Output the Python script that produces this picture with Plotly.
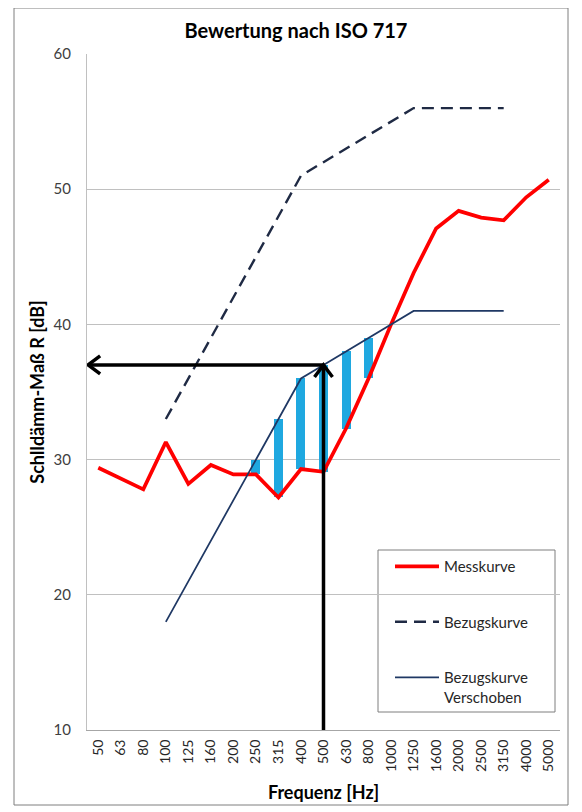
import plotly.graph_objects as go

freqs = ["50", "63", "80", "100", "125", "160", "200", "250", "315", "400", "500",
         "630", "800", "1000", "1250", "1600", "2000", "2500", "3150", "4000", "5000"]
messkurve = [29.4, 28.6, 27.8, 31.3, 28.2, 29.6, 28.9, 28.9, 27.2, 29.3, 29.1,
             32.3, 36.0, 40.0, 43.8, 47.1, 48.4, 47.9, 47.7, 49.4, 50.7]
bezug_freqs = ["100", "125", "160", "200", "250", "315", "400", "500", "630", "800",
               "1000", "1250", "1600", "2000", "2500", "3150"]
bezugskurve = [33, 36, 39, 42, 45, 48, 51, 52, 53, 54, 55, 56, 56, 56, 56, 56]
shift = -15
verschoben = [v + shift for v in bezugskurve]
y_ticks = [10, 20, 30, 40, 50, 60]

idx = {f: i for i, f in enumerate(freqs)}
bx = [idx[f] for f in bezug_freqs]
mx = list(range(len(freqs)))

# unfavourable deviations
dev_x, dev_base, dev_h = [], [], []
for f, v in zip(bezug_freqs, verschoben):
    m = messkurve[idx[f]]
    if v > m:
        dev_x.append(idx[f]); dev_base.append(m); dev_h.append(v - m)

rw_x = idx["500"]
rw = verschoben[bezug_freqs.index("500")]

# page has an 8px body margin; figure is laid out in page px minus 8
W, H = 574, 804
L, R, T, B = 79, 22, 46, 82
PW, PH = W - L - R, H - T - B


def px(xp):  # page x -> paper
    return (xp - 8 - L) / PW


def py(yp):  # page y -> paper
    return (H - B - (yp - 8)) / PH


FONT = "Lato"
fig = go.Figure()
fig.add_trace(go.Bar(x=dev_x, y=dev_h, base=dev_base, width=0.4,
                     marker=dict(color="#1FA8E0", line=dict(width=0)),
                     showlegend=False, hoverinfo="skip"))
fig.add_trace(go.Scatter(x=mx, y=messkurve, mode="lines", name="Messkurve",
                         line=dict(color="#FF0000", width=3.75), legendgroup="a"))
fig.add_trace(go.Scatter(x=bx, y=bezugskurve, mode="lines", name="Bezugskurve",
                         line=dict(color="#1F2A44", width=2.4, dash="12px,7px"), legendgroup="b"))
fig.add_trace(go.Scatter(x=bx, y=verschoben, mode="lines", name="Bezugskurve<br>Verschoben",
                         line=dict(color="#1F3864", width=1.75), legendgroup="c"))

shapes = [
    dict(type="line", xref="x", yref="y", x0=rw_x, x1=rw_x, y0=10, y1=rw,
         line=dict(color="black", width=3.5), layer="above"),
    dict(type="line", xref="x", yref="y", x0=rw_x, x1=-0.45, y0=rw, y1=rw,
         line=dict(color="black", width=3.5), layer="above"),
    dict(type="path", xref="x", yref="y", xsizemode="pixel", ysizemode="pixel",
         xanchor=-0.45, yanchor=rw, path="M 12,9 L 0,0 L 12,-9",
         line=dict(color="black", width=3.5), layer="above"),
    dict(type="path", xref="x", yref="y", xsizemode="pixel", ysizemode="pixel",
         xanchor=rw_x, yanchor=rw, path="M -9,-12 L 0,0 L 9,-12",
         line=dict(color="black", width=3.5), layer="above"),
    # legend box
    dict(type="rect", xref="paper", yref="paper", x0=px(378), x1=px(555),
         y0=py(712), y1=py(550), line=dict(color="#7f7f7f", width=1),
         fillcolor="white", layer="below"),
    # outer frame
    dict(type="rect", xref="paper", yref="paper", x0=px(14), x1=px(568),
         y0=py(805), y1=py(8), line=dict(color="#7f7f7f", width=1)),
]

fig.update_layout(
    width=W, height=H,
    margin=dict(l=L, r=R, t=T, b=B, autoexpand=False),
    paper_bgcolor="white", plot_bgcolor="white",
    font=dict(family=FONT, color="#262626"),
    title=dict(text="<b>Bewertung nach ISO 717</b>", x=(296 - 8) / W, xanchor="center",
               y=1 - (31 - 8) / H, yanchor="middle", font=dict(size=20, color="black")),
    showlegend=True,
    legend=dict(x=px(390), y=py(550), xanchor="left", yanchor="top",
                bgcolor="rgba(0,0,0,0)", borderwidth=0, font=dict(size=15, color="#262626"),
                tracegroupgap=33, traceorder="grouped", valign="top", itemwidth=44),
    shapes=shapes,
    bargap=0,
)
fig.update_xaxes(range=[-0.5, len(freqs) - 0.5], tickmode="array", tickvals=mx, ticktext=freqs,
                 tickangle=-90, tickfont=dict(size=14, color="#262626"), showgrid=False,
                 showline=True, linecolor="#a6a6a6", linewidth=1, ticks="", zeroline=False,
                 ticklabelstandoff=3,
                 title=dict(text="<b>Frequenz [Hz]</b>", font=dict(size=18, color="black"), standoff=15))
fig.update_yaxes(range=[10, 60], tickvals=y_ticks, tickfont=dict(size=15, color="#404040"),
                 showgrid=True, gridcolor="#c0c0c0", gridwidth=1, showline=True,
                 linecolor="#c0c0c0", linewidth=1, zeroline=False, ticks="", ticklabelstandoff=12,
                 title=dict(text="<b>Schlldämm-Maß R [dB]</b>", font=dict(size=18, color="black"), standoff=4))

fig.write_html("out.html")
